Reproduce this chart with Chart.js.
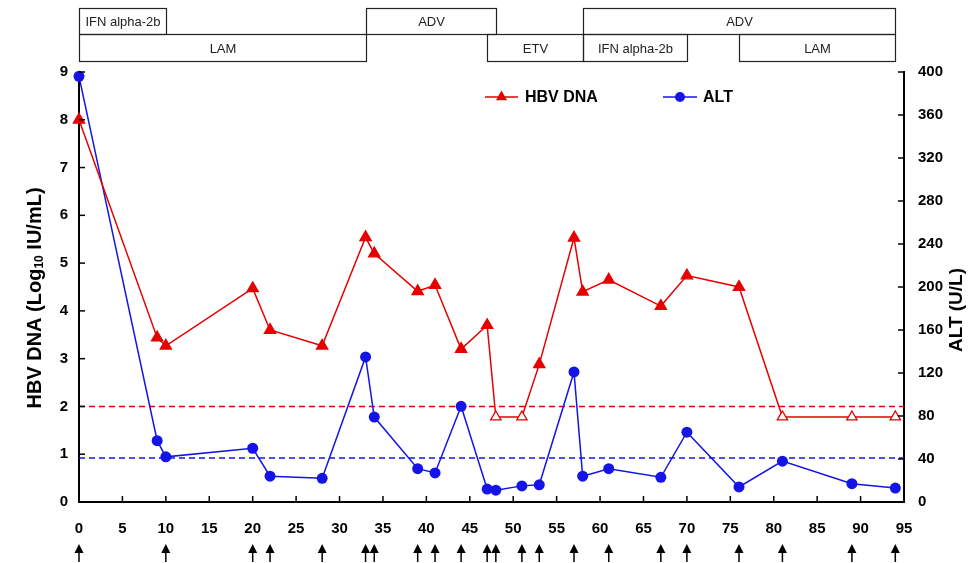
<!DOCTYPE html>
<html>
<head>
<meta charset="utf-8">
<script src="https://cdn.jsdelivr.net/npm/chart.js@4.4.1/dist/chart.umd.min.js"></script>
<style>
  html, body { margin: 0; padding: 0; background: #fff; }
</style>
</head>
<body>
<canvas id="hbvChart" width="971" height="563"></canvas>
<script>
// Dados (meses de seguimento)
const months = [0, 9, 10, 20, 22, 28, 33, 34, 39, 41, 44, 47, 48, 51, 53, 57, 58, 61, 67, 70, 76, 81, 89, 94];
const hbvDna = [8.0, 3.44, 3.27, 4.47, 3.6, 3.27, 5.54, 5.2, 4.41, 4.54, 3.2, 3.7, 1.78, 1.78, 2.88, 5.53, 4.4, 4.65, 4.1, 4.74, 4.5, 1.78, 1.78, 1.78];
const alt = [396, 57, 42, 50, 24, 22, 135, 79, 31, 27, 89, 12, 11, 15, 16, 121, 24, 31, 23, 65, 14, 38, 17, 13];
// HBV DNA abaixo do limite (triângulo vazio)
const hbvBelowLimit = [48, 51, 81, 89, 94];
// Setas de visita
const visitMonths = [0, 10, 20, 22, 28, 33, 34, 39, 41, 44, 47, 48, 51, 53, 57, 61, 67, 70, 76, 81, 89, 94];
// Linhas de referência
const dnaLimit = 2;
const altLimit = 41;

// Tratamentos (barras no topo)
const treatNames = ['IFN alpha-2b', 'ADV', 'ADV', 'LAM', 'ETV', 'IFN alpha-2b', 'LAM'];
const treatStart = [0, 33, 58, 0, 47, 58, 76];
const treatEnd = [10, 48, 94, 33, 58, 70, 94];
const treatRow = [0, 0, 0, 1, 1, 1, 1];

const colors = {
  red: '#e60000',
  blue: '#1414e6',
  axis: '#000'
};

const FONT = "'Liberation Sans', Arial, sans-serif";
const tickFont = { family: FONT, size: 15, weight: 'bold' };

// Decorações: ticks internos, setas, tratamentos, títulos e legenda
const decorPlugin = {
  id: 'decor',
  afterDraw(chart) {
    const ctx = chart.ctx;
    const xs = chart.scales.x;
    const yl = chart.scales.y;
    const yr = chart.scales.y1;
    const area = chart.chartArea;

    ctx.save();
    ctx.strokeStyle = colors.axis;
    ctx.lineWidth = 1.5;

    // ticks internos
    xs.ticks.forEach(t => {
      const px = xs.getPixelForValue(t.value);
      ctx.beginPath();
      ctx.moveTo(px, area.bottom);
      ctx.lineTo(px, area.bottom - 6);
      ctx.stroke();
    });
    yl.ticks.forEach(t => {
      const py = yl.getPixelForValue(t.value);
      ctx.beginPath();
      ctx.moveTo(area.left, py);
      ctx.lineTo(area.left + 6, py);
      ctx.stroke();
    });
    yr.ticks.forEach(t => {
      const py = yr.getPixelForValue(t.value);
      ctx.beginPath();
      ctx.moveTo(area.right, py);
      ctx.lineTo(area.right - 6, py);
      ctx.stroke();
    });

    // setas
    ctx.fillStyle = '#000';
    visitMonths.forEach(m => {
      const px = xs.getPixelForValue(m);
      ctx.beginPath();
      ctx.moveTo(px, 544);
      ctx.lineTo(px - 4.5, 553);
      ctx.lineTo(px + 4.5, 553);
      ctx.closePath();
      ctx.fill();
      ctx.beginPath();
      ctx.moveTo(px, 550);
      ctx.lineTo(px, 562);
      ctx.stroke();
    });

    // barras de tratamento
    const rowTop = [8, 34];
    const rowBottom = [34, 61];
    ctx.lineWidth = 1.2;
    ctx.strokeStyle = '#222';
    ctx.fillStyle = '#222';
    ctx.font = `13px ${FONT}`;
    ctx.textAlign = 'center';
    ctx.textBaseline = 'middle';
    treatNames.forEach((name, i) => {
      const x0 = Math.round(xs.getPixelForValue(treatStart[i])) + 0.5;
      const x1 = Math.round(xs.getPixelForValue(treatEnd[i])) + 0.5;
      const y0 = rowTop[treatRow[i]] + 0.5;
      const y1 = rowBottom[treatRow[i]] + 0.5;
      ctx.strokeRect(x0, y0, x1 - x0, y1 - y0);
      ctx.fillText(name, (x0 + x1) / 2, (y0 + y1) / 2 + 1);
    });

    // título eixo esquerdo com subscrito
    ctx.fillStyle = '#000';
    ctx.textAlign = 'left';
    ctx.textBaseline = 'middle';
    const big = `bold 20px ${FONT}`;
    const small = `bold 12px ${FONT}`;
    const parts = [['HBV DNA (Log', big, 0], ['10', small, 5], [' IU/mL)', big, 0]];
    let total = 0;
    parts.forEach(p => { ctx.font = p[1]; total += ctx.measureText(p[0]).width; });
    ctx.save();
    ctx.translate(35, 298);
    ctx.rotate(-Math.PI / 2);
    let cx = -total / 2;
    parts.forEach(p => {
      ctx.font = p[1];
      ctx.fillText(p[0], cx, p[2]);
      cx += ctx.measureText(p[0]).width;
    });
    ctx.restore();

    // título eixo direito
    ctx.save();
    ctx.translate(957, 310);
    ctx.rotate(-Math.PI / 2);
    ctx.font = `bold 19px ${FONT}`;
    ctx.textAlign = 'center';
    ctx.fillText('ALT (U/L)', 0, 0);
    ctx.restore();

    // legenda
    const ly = 97;
    ctx.lineWidth = 1.5;
    ctx.strokeStyle = colors.red;
    ctx.beginPath();
    ctx.moveTo(485, ly);
    ctx.lineTo(518, ly);
    ctx.stroke();
    ctx.fillStyle = colors.red;
    ctx.beginPath();
    ctx.moveTo(501.5, ly - 6.5);
    ctx.lineTo(501.5 + 5.6, ly + 3.25);
    ctx.lineTo(501.5 - 5.6, ly + 3.25);
    ctx.closePath();
    ctx.fill();

    ctx.strokeStyle = colors.blue;
    ctx.beginPath();
    ctx.moveTo(663, ly);
    ctx.lineTo(697, ly);
    ctx.stroke();
    ctx.fillStyle = colors.blue;
    ctx.beginPath();
    ctx.arc(680, ly, 5, 0, Math.PI * 2);
    ctx.fill();

    ctx.fillStyle = '#000';
    ctx.font = `bold 16px ${FONT}`;
    ctx.textAlign = 'left';
    ctx.fillText('HBV DNA', 525, ly + 1);
    ctx.fillText('ALT', 703, ly + 1);

    ctx.restore();
  }
};

function axisBase() {
  return {
    grid: { display: false, drawTicks: false },
    border: { display: true, color: colors.axis, width: 2 }
  };
}

const ctx = document.getElementById('hbvChart').getContext('2d');

new Chart(ctx, {
  type: 'line',
  data: {
    datasets: [
      {
        label: 'HBV DNA',
        data: months.map((m, i) => ({ x: m, y: hbvDna[i] })),
        yAxisID: 'y',
        borderColor: colors.red,
        borderWidth: 1.5,
        pointStyle: 'triangle',
        pointRadius: months.map(m => hbvBelowLimit.includes(m) ? 6 : 6.5),
        pointBackgroundColor: months.map(m => hbvBelowLimit.includes(m) ? '#fff' : colors.red),
        pointBorderColor: colors.red,
        pointBorderWidth: 1.3,
        tension: 0,
        clip: false,
        order: 1
      },
      {
        label: 'ALT',
        data: months.map((m, i) => ({ x: m, y: alt[i] })),
        yAxisID: 'y1',
        borderColor: colors.blue,
        borderWidth: 1.5,
        pointStyle: 'circle',
        pointRadius: 5.5,
        pointBackgroundColor: colors.blue,
        pointBorderColor: colors.blue,
        pointBorderWidth: 0,
        tension: 0,
        clip: false,
        order: 2
      },
      {
        label: 'DNA limit',
        data: [{ x: 0, y: dnaLimit }, { x: 95, y: dnaLimit }],
        yAxisID: 'y',
        borderColor: colors.red,
        borderWidth: 1.5,
        borderDash: [6, 4],
        pointRadius: 0,
        order: 3
      },
      {
        label: 'ALT limit',
        data: [{ x: 0, y: altLimit }, { x: 95, y: altLimit }],
        yAxisID: 'y1',
        borderColor: colors.blue,
        borderWidth: 1.5,
        borderDash: [6, 4],
        pointRadius: 0,
        order: 3
      }
    ]
  },
  options: {
    responsive: false,
    animation: false,
    layout: { padding: { top: 72 } },
    plugins: {
      legend: { display: false },
      tooltip: { enabled: false }
    },
    scales: {
      x: {
        ...axisBase(),
        type: 'linear',
        min: 0,
        max: 95,
        ticks: { stepSize: 5, padding: 18, color: '#000', font: tickFont, maxRotation: 0 },
        afterFit: s => { s.height = 61; }
      },
      y: {
        ...axisBase(),
        position: 'left',
        min: 0,
        max: 9,
        ticks: { stepSize: 1, padding: 11, color: '#000', font: tickFont },
        afterFit: s => { s.width = 79; }
      },
      y1: {
        ...axisBase(),
        position: 'right',
        min: 0,
        max: 400,
        ticks: { stepSize: 40, padding: 14, color: '#000', font: tickFont },
        afterFit: s => { s.width = 67; }
      }
    }
  },
  plugins: [decorPlugin]
});
</script>
</body>
</html>
